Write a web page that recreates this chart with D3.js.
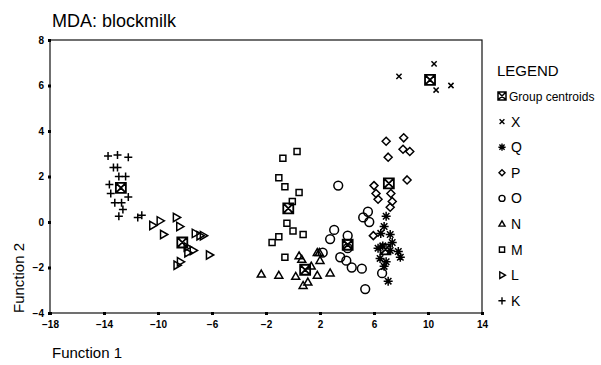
<!DOCTYPE html>
<html>
<head>
<meta charset="utf-8">
<script src="https://cdn.jsdelivr.net/npm/d3@7"></script>
<style>
  body { margin: 0; background: #fff; }
  text { font-family: "Liberation Sans", Arial, sans-serif; fill: #000; }
</style>
</head>
<body>
<svg id="chart" width="601" height="365"></svg>
<script>
// axis ticks
var xTicks = [-18, -14, -10, -6, -2, 2, 6, 10, 14];
var yTicks = [-4, -2, 0, 2, 4, 6, 8];

// discriminant scores per group [function1, function2]
var groupX = [[10.45, 6.95], [7.85, 6.4], [10.6, 5.8], [11.7, 6.0]];
var groupQ = [[6.9, 0.25], [6.75, -0.2], [6.5, -0.5], [7.2, -0.55], [7.35, -0.9], [6.3, -1.15],
              [6.65, -1.05], [7.2, -1.25], [7.8, -1.3], [7.95, -1.55], [6.45, -1.6], [6.9, -1.75],
              [6.75, -1.95], [7.05, -2.6]];
var groupP = [[6.9, 3.55], [8.2, 3.7], [8.15, 3.2], [8.65, 3.1], [7.05, 2.85], [8.45, 1.85],
              [6.0, 1.6], [6.15, 1.25], [7.25, 1.25], [6.3, 1.0], [7.35, 0.9], [7.2, 0.65], [5.95, -0.6]];
var groupO = [[3.35, 1.6], [5.55, 0.45], [5.2, 0.2], [5.65, 0.0], [3.05, -0.35], [2.75, -0.75],
              [4.05, -0.6], [4.05, -1.15], [2.2, -1.35], [3.5, -1.55], [3.95, -1.7], [4.35, -2.0],
              [5.1, -2.05], [6.6, -2.25], [5.35, -2.95]];
var groupN = [[-2.35, -2.3], [-1.05, -2.35], [0.2, -2.4], [0.45, -1.5], [0.65, -1.65], [1.8, -1.35],
              [1.95, -1.35], [2.0, -1.7], [1.35, -1.95], [2.75, -2.25], [1.8, -2.35], [1.1, -2.65], [0.75, -2.8]];
var groupM = [[0.3, 3.1], [-0.75, 2.8], [-1.05, 1.95], [-0.6, 1.55], [0.45, 1.3], [-0.05, 0.9],
              [-0.45, -0.05], [0.0, -0.4], [0.75, -0.55], [-1.05, -0.65], [-1.55, -0.9], [-0.6, -1.55]];
var groupL = [[-10.4, -0.15], [-9.85, 0.05], [-8.65, 0.2], [-8.4, -0.2], [-9.6, -0.55], [-7.25, -0.5],
              [-6.9, -0.6], [-6.65, -0.6], [-7.85, -1.1], [-7.4, -1.25], [-7.8, -1.35], [-6.2, -1.45],
              [-8.6, -1.9], [-8.35, -1.75]];
var groupK = [[-13.7, 2.9], [-13.0, 2.95], [-12.2, 2.85], [-13.3, 2.4], [-13.0, 2.4], [-12.9, 2.0],
              [-12.4, 2.0], [-13.6, 1.65], [-13.5, 1.25], [-12.2, 1.1], [-13.2, 0.85], [-12.7, 0.85],
              [-12.6, 0.55], [-12.9, 0.25], [-11.5, 0.2], [-11.2, 0.3]];

// group centroids, same order as groupNames
var groupNames = ['X', 'Q', 'P', 'O', 'N', 'M', 'L', 'K'];
var centroids = [[10.15, 6.25], [6.85, -1.2], [7.1, 1.7], [4.05, -1.0], [0.9, -2.1], [-0.35, 0.6], [-8.2, -0.9], [-12.75, 1.5]];

var legendLabels = ['Group centroids', 'X', 'Q', 'P', 'O', 'N', 'M', 'L', 'K'];

(function () {
    'use strict';

    var markers = {
        plus: function (s) { return 'M' + (-s) + ',0H' + s + 'M0,' + (-s) + 'V' + s; },
        cross: function (s) { return 'M' + (-s) + ',' + (-s) + 'L' + s + ',' + s + 'M' + (-s) + ',' + s + 'L' + s + ',' + (-s); },
        star: function (s) {
            var d = s * 0.72;
            return 'M' + (-s) + ',0H' + s + 'M0,' + (-s) + 'V' + s +
                'M' + (-d) + ',' + (-d) + 'L' + d + ',' + d + 'M' + (-d) + ',' + d + 'L' + d + ',' + (-d);
        },
        diamond: function (s) { return 'M0,' + (-s) + 'L' + s + ',0L0,' + s + 'L' + (-s) + ',0Z'; },
        square: function (s) { return 'M' + (-s) + ',' + (-s) + 'H' + s + 'V' + s + 'H' + (-s) + 'Z'; },
        triUp: function (s) { return 'M0,' + (-s) + 'L' + (s * 0.95) + ',' + (s * 0.65) + 'L' + (-s * 0.95) + ',' + (s * 0.65) + 'Z'; },
        triRight: function (s) { return 'M' + s + ',0L' + (-s * 0.65) + ',' + (-s * 0.95) + 'L' + (-s * 0.65) + ',' + (s * 0.95) + 'Z'; },
        circle: function (s) { return 'M' + s + ',0A' + s + ',' + s + ' 0 1,1 ' + (-s) + ',0A' + s + ',' + s + ' 0 1,1 ' + s + ',0Z'; },
        centroid: function (s) {
            return 'M' + (-s) + ',' + (-s) + 'H' + s + 'V' + s + 'H' + (-s) + 'Z' +
                'M' + (-s) + ',' + (-s) + 'L' + s + ',' + s + 'M' + (-s) + ',' + s + 'L' + s + ',' + (-s);
        }
    };

    var series = [
        {data: groupX, shape: 'cross', size: 2.6, legendSize: 2.4},
        {data: groupQ, shape: 'star', size: 4.5, legendSize: 3.6},
        {data: groupP, shape: 'diamond', size: 4, legendSize: 3},
        {data: groupO, shape: 'circle', size: 4.4, legendSize: 3},
        {data: groupN, shape: 'triUp', size: 4.2, legendSize: 3.2},
        {data: groupM, shape: 'square', size: 3, legendSize: 2.6},
        {data: groupL, shape: 'triRight', size: 4.4, legendSize: 3.4},
        {data: groupK, shape: 'plus', size: 4, legendSize: 3.6}
    ];

    var svg = d3.select('#chart');
    var plotLeft = 50, plotRight = 482, plotTop = 40, plotBottom = 313;

    var scaleX = d3.scaleLinear().domain([-18, 14]).range([plotLeft, plotRight]);
    var scaleY = d3.scaleLinear().domain([-4, 8]).range([plotBottom, plotTop]);

    svg.append('text')
        .attr('x', 52).attr('y', 27)
        .attr('font-size', 18)
        .text('MDA: blockmilk');

    // frame
    svg.append('rect')
        .attr('x', plotLeft).attr('y', plotTop)
        .attr('width', plotRight - plotLeft).attr('height', plotBottom - plotTop)
        .attr('fill', 'none')
        .attr('stroke', '#111')
        .attr('stroke-width', 1.2);

    var xAxis = d3.axisBottom(scaleX).tickValues(xTicks).tickSize(3).tickPadding(5);
    var yAxis = d3.axisLeft(scaleY).tickValues(yTicks).tickSize(3).tickPadding(3);

    svg.append('g')
        .attr('transform', 'translate(0,' + plotBottom + ')')
        .call(xAxis)
        .call(function (g) {
            g.select('.domain').remove();
            g.selectAll('.tick line').attr('stroke', '#000').attr('stroke-width', 3).attr('y1', -1).attr('y2', 2);
            g.selectAll('.tick text').attr('font-size', 10).attr('font-weight', 'bold')
                .attr('font-family', '"Liberation Sans", Arial, sans-serif').attr('fill', '#000');
        });

    svg.append('g')
        .attr('transform', 'translate(' + plotLeft + ',0)')
        .call(yAxis)
        .call(function (g) {
            g.select('.domain').remove();
            g.selectAll('.tick line').attr('stroke', '#000').attr('stroke-width', 3).attr('x1', 1).attr('x2', -2);
            g.selectAll('.tick text').attr('font-size', 10).attr('font-weight', 'bold')
                .attr('font-family', '"Liberation Sans", Arial, sans-serif').attr('fill', '#000');
        });

    svg.append('text')
        .attr('x', 52).attr('y', 358)
        .attr('font-size', 15)
        .text('Function 1');

    svg.append('text')
        .attr('transform', 'translate(24,278) rotate(-90)')
        .attr('text-anchor', 'middle')
        .attr('font-size', 15)
        .text('Function 2');

    // points
    var plot = svg.append('g').attr('class', 'points');

    series.forEach(function (s) {
        plot.append('g')
            .selectAll('path')
            .data(s.data)
            .enter().append('path')
            .attr('transform', function (d) { return 'translate(' + scaleX(d[0]) + ',' + scaleY(d[1]) + ')'; })
            .attr('d', markers[s.shape](s.size))
            .attr('fill', 'none')
            .attr('stroke', '#000')
            .attr('stroke-width', 1.5);
    });

    plot.append('g')
        .selectAll('path')
        .data(centroids)
        .enter().append('path')
        .attr('transform', function (d) { return 'translate(' + scaleX(d[0]) + ',' + scaleY(d[1]) + ')'; })
        .attr('d', markers.centroid(5))
        .attr('fill', 'none')
        .attr('stroke', '#000')
        .attr('stroke-width', 1.8);

    // legend
    var legend = svg.append('g').attr('class', 'legend');

    legend.append('text')
        .attr('x', 497).attr('y', 76)
        .attr('font-size', 15)
        .text('LEGEND');

    legendLabels.forEach(function (label, i) {
        var y = 96 + i * 25.6;
        var shape = i === 0 ? 'centroid' : series[i - 1].shape;
        var size = i === 0 ? 4 : series[i - 1].legendSize;

        legend.append('path')
            .attr('transform', 'translate(502,' + y + ')')
            .attr('d', markers[shape](size))
            .attr('fill', 'none')
            .attr('stroke', '#000')
            .attr('stroke-width', i === 0 ? 1.5 : 1.4);

        legend.append('text')
            .attr('x', i === 0 ? 509 : 511)
            .attr('y', y + 5)
            .attr('font-size', i === 0 ? 12 : 14)
            .text(label);
    });
}());
</script>
</body>
</html>
